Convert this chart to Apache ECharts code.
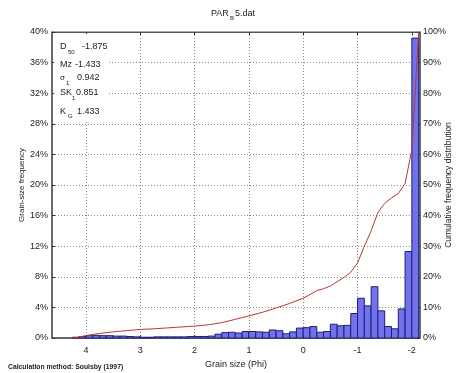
<!DOCTYPE html>
<html>
<head>
<meta charset="utf-8">
<title>PAR_B5.dat</title>
<script src="https://cdn.jsdelivr.net/npm/echarts@6/dist/echarts.min.js"></script>
<style>
  html, body { margin: 0; padding: 0; background: #fff; }
  #chart { width: 456px; height: 373px; }
</style>
</head>
<body>
<div id="chart"></div>
<script>
// Histogram bin edges in phi (fine -> coarse), one more edge than bins
const binEdges = [4.25, 4.125, 4.0, 3.875, 3.75, 3.625, 3.5, 3.375, 3.25, 3.125,
  3.0, 2.875, 2.75, 2.625, 2.5, 2.375, 2.25, 2.125, 2.0, 1.875,
  1.75, 1.625, 1.5, 1.375, 1.25, 1.125, 1.0, 0.875, 0.75, 0.625,
  0.5, 0.375, 0.25, 0.125, 0.0, -0.125, -0.25, -0.375, -0.5, -0.625,
  -0.75, -0.875, -1.0, -1.125, -1.25, -1.375, -1.5, -1.625, -1.75, -1.875,
  -2.0, -2.125];

// Grain-size frequency (%) per bin
const binFreq = [0.1, 0.2, 0.3, 0.35, 0.3, 0.3, 0.25, 0.25, 0.2, 0.15,
  0.1, 0.1, 0.15, 0.15, 0.15, 0.15, 0.15, 0.2, 0.2, 0.2,
  0.25, 0.5, 0.7, 0.75, 0.65, 0.85, 0.85, 0.8, 0.75, 1.05,
  0.95, 0.55, 0.8, 1.3, 1.35, 1.5, 0.75, 0.85, 1.8, 1.6,
  1.65, 3.2, 5.2, 4.2, 6.7, 3.55, 1.5, 1.2, 3.8, 11.3,
  39.2];

// Cumulative frequency distribution (%)
const cumPhi = [4.25, 4.125, 4.0, 3.75, 3.5, 3.25, 3.0, 2.75, 2.5, 2.25,
  2.0, 1.75, 1.5, 1.25, 1.0, 0.75, 0.5, 0.25, 0.0, -0.125,
  -0.25, -0.375, -0.5, -0.625, -0.75, -0.875, -1.0, -1.125, -1.25, -1.375,
  -1.5, -1.625, -1.75, -1.875, -2.0, -2.125];
const cumPct = [0, 0.3, 0.8, 1.5, 2.0, 2.4, 2.8, 3.0, 3.3, 3.6,
  3.9, 4.3, 5.0, 6.1, 7.2, 8.4, 9.8, 11.3, 13.0, 14.2,
  15.5, 16.1, 17.0, 18.4, 19.8, 21.5, 24.5, 30.0, 35.0, 41.0,
  44.0, 45.8, 47.2, 50.5, 61.5, 100];

// Axis ticks
const phiTicks = [4, 3, 2, 1, 0, -1, -2];
const freqTicks = { min: 0, max: 40, step: 4 };
const cumTicks = { min: 0, max: 100, step: 10 };

// Sorting statistics
const stats = [
  { main: 'D', sub: '50', value: '-1.875' },
  { main: 'Mz', sub: '', value: '-1.433' },
  { main: '\u03c3', sub: '1', value: '0.942' },
  { main: 'SK', sub: '1', value: '0.851' },
  { main: 'K', sub: 'G', value: '1.433' }
];

const FONT = '"Liberation Sans", Arial, Helvetica, sans-serif';
const TXT = '#222';

const histData = binFreq.map((v, i) => [binEdges[i], binEdges[i + 1], v]);
const cumData = cumPhi.map((p, i) => [p, cumPct[i]]);

const chart = echarts.init(document.getElementById('chart'), null, { renderer: 'canvas' });

// Statistic block layout (top-left inside the plot, on a white panel)
const statRows = [
  { y: 47, subX: 68, valX: 82, subDy: 5 },
  { y: 65, subX: 0, valX: 75, subDy: 0 },
  { y: 78, subX: 66, valX: 77, subDy: 5 },
  { y: 93, subX: 72, valX: 76, subDy: 5 },
  { y: 112, subX: 68, valX: 77, subDy: 4 }
];
const graphics = [{
  type: 'rect', shape: { x: 54, y: 34, width: 53, height: 86 },
  style: { fill: '#fff' }, z: 10
}];
stats.forEach((s, i) => {
  const r = statRows[i];
  graphics.push({ type: 'text', x: 60, y: r.y, z: 11,
    style: { text: s.main, font: (s.main === '\u03c3' ? '8px ' : '9px ') + FONT, fill: TXT, verticalAlign: 'middle' } });
  if (s.sub) {
    graphics.push({ type: 'text', x: r.subX, y: r.y + r.subDy, z: 11,
      style: { text: s.sub, font: '6px ' + FONT, fill: TXT, verticalAlign: 'middle' } });
  }
  graphics.push({ type: 'text', x: r.valX, y: r.y, z: 11,
    style: { text: s.value, font: '9px ' + FONT, fill: TXT, verticalAlign: 'middle' } });
});
// Title with subscript
graphics.push({ type: 'text', x: 211, y: 14, style: { text: 'PAR', font: '9px ' + FONT, fill: TXT, verticalAlign: 'middle' } });
graphics.push({ type: 'text', x: 230, y: 18, style: { text: 'B', font: '6px ' + FONT, fill: TXT, verticalAlign: 'middle' } });
graphics.push({ type: 'text', x: 235, y: 14, style: { text: '5.dat', font: '9px ' + FONT, fill: TXT, verticalAlign: 'middle' } });
// Footnote
graphics.push({ type: 'text', x: 8, y: 367, style: { text: 'Calculation method: Soulsby (1997)', font: 'bold 6.8px ' + FONT, fill: TXT, verticalAlign: 'middle' } });

const gridDot = { color: '#8a8a8a', type: [1, 2], width: 1 };

chart.setOption({
  animation: false,
  backgroundColor: '#fff',
  textStyle: { fontFamily: FONT },
  grid: {
    left: 52, right: 36, top: 32, bottom: 35,
    outerBoundsMode: 'none', containLabel: false,
    show: true, borderColor: '#555', borderWidth: 1, backgroundColor: 'transparent'
  },
  xAxis: [{
    type: 'value', inverse: true, min: -2.15, max: 4.625, position: 'bottom',
    name: 'Grain size (Phi)', nameLocation: 'middle', nameGap: 19,
    nameTextStyle: { fontSize: 9, color: TXT, fontFamily: FONT },
    axisLine: { show: true, onZero: false, lineStyle: { color: '#555', width: 1.5 } },
    axisTick: { show: true, inside: true, length: 3, customValues: phiTicks, lineStyle: { color: '#333' } },
    axisLabel: { customValues: phiTicks, fontSize: 9, color: TXT, margin: 8, fontFamily: FONT },
    splitLine: { show: true, lineStyle: gridDot }
  }, {
    type: 'value', inverse: true, min: -2.15, max: 4.625, position: 'top',
    axisLine: { show: true, onZero: false, lineStyle: { color: '#555', width: 1 } },
    axisTick: { show: true, inside: true, length: 3, customValues: phiTicks, lineStyle: { color: '#333' } },
    axisLabel: { show: false, customValues: phiTicks },
    splitLine: { show: false }
  }],
  yAxis: [{
    type: 'value', min: freqTicks.min, max: freqTicks.max, interval: freqTicks.step, position: 'left',
    name: 'Grain-size frequency', nameLocation: 'middle', nameGap: 26, nameRotate: 90,
    nameMoveOverlap: false,
    nameTextStyle: { fontSize: 8, color: TXT, fontFamily: FONT },
    axisLine: { show: true, onZero: false, lineStyle: { color: '#555', width: 1.5 } },
    axisTick: { show: true, inside: true, length: 3, lineStyle: { color: '#333' } },
    axisLabel: { formatter: '{value}%', fontSize: 9, color: TXT, margin: 4, fontFamily: FONT },
    splitLine: { show: true, lineStyle: gridDot }
  }, {
    type: 'value', min: cumTicks.min, max: cumTicks.max, interval: cumTicks.step, position: 'right',
    name: 'Cumulative frequency distribution', nameLocation: 'middle', nameGap: 24, nameRotate: 90,
    nameMoveOverlap: false,
    nameTextStyle: { fontSize: 8.5, color: TXT, fontFamily: FONT },
    axisLine: { show: true, onZero: false, lineStyle: { color: '#555', width: 1.5 } },
    axisTick: { show: true, inside: true, length: 3, lineStyle: { color: '#333' } },
    axisLabel: { formatter: '{value}%', fontSize: 9, color: TXT, margin: 3, fontFamily: FONT },
    splitLine: { show: false }
  }],
  graphic: graphics,
  series: [{
    type: 'custom',
    xAxisIndex: 0, yAxisIndex: 0,
    data: histData,
    encode: { x: [0, 1], y: 2 },
    renderItem: function (params, api) {
      const p0 = api.coord([api.value(0), api.value(2)]);
      const p1 = api.coord([api.value(1), 0]);
      const x = Math.min(p0[0], p1[0]);
      const w = Math.abs(p1[0] - p0[0]);
      return {
        type: 'rect',
        shape: { x: x, y: p0[1], width: w, height: p1[1] - p0[1] },
        style: { fill: '#7272ee', stroke: '#1e1e70', lineWidth: 1 }
      };
    },
    z: 2
  }, {
    type: 'line',
    xAxisIndex: 0, yAxisIndex: 1,
    data: cumData,
    showSymbol: false, symbol: 'none',
    lineStyle: { color: '#b23a3a', width: 1 },
    z: 3
  }]
});
</script>
</body>
</html>
